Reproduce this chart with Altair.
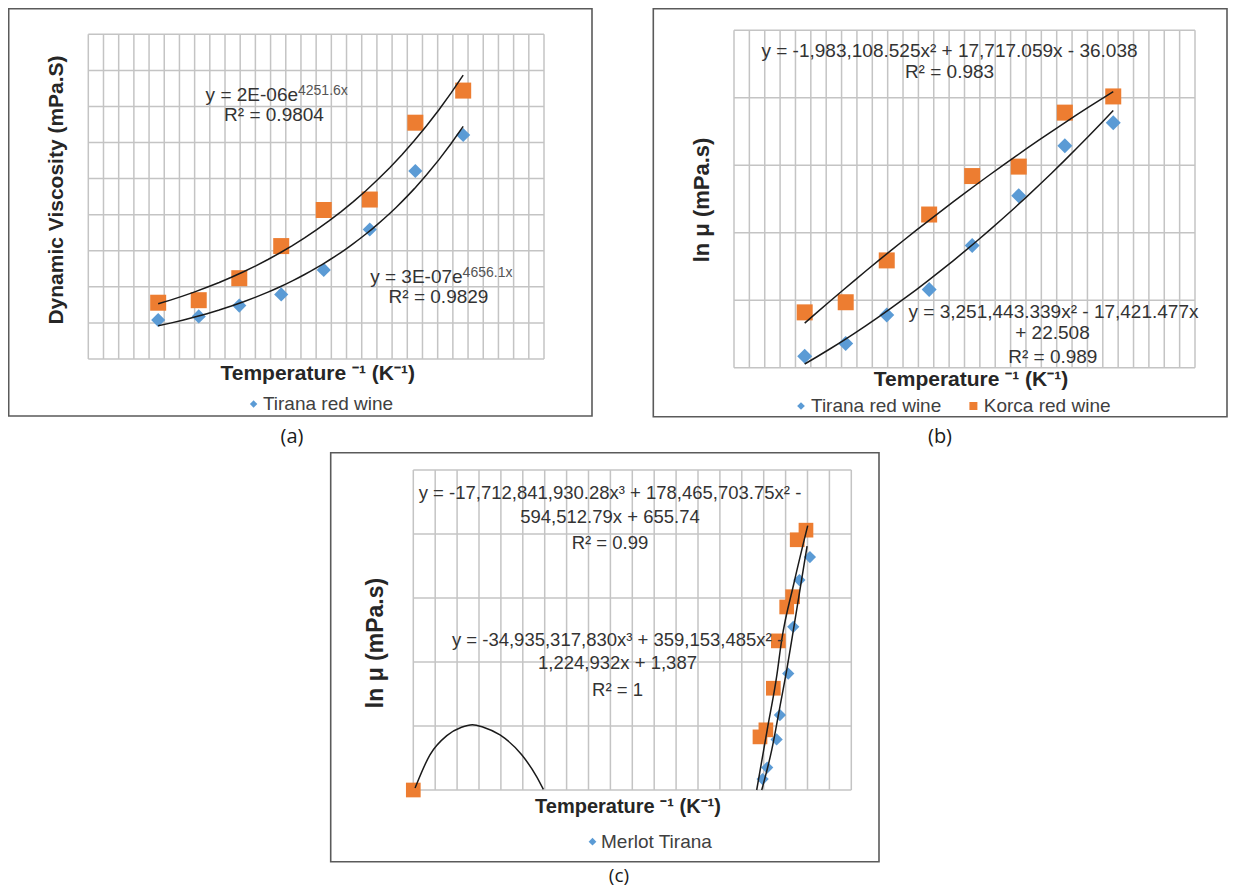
import altair as alt
import pandas as pd

# ---------------- data (in grid units) ----------------
AB_X = [4.60, 7.27, 9.94, 12.70, 15.50, 18.53, 21.53, 24.68]
A_TIRANA = [1.08, 1.18, 1.48, 1.79, 2.47, 3.59, 5.21, 6.21]
A_KORCA = [1.56, 1.63, 2.24, 3.13, 4.13, 4.42, 6.55, 7.44]
B_TIRANA = [0.17, 0.36, 0.78, 1.16, 1.81, 2.55, 3.29, 3.63]
B_KORCA = [0.82, 0.97, 1.59, 2.27, 2.84, 2.98, 3.78, 4.02]
C_X_MERLOT = [0.0, 15.95, 16.16, 16.59, 16.74, 17.12, 17.35, 17.63, 18.11]
C_MERLOT = [0.0, 0.17, 0.35, 0.79, 1.17, 1.82, 2.55, 3.28, 3.64]
C_X_OTHER = [0.0, 15.83, 16.10, 16.44, 16.67, 17.05, 17.32, 17.53, 17.93]
C_OTHER = [0.0, 0.83, 0.94, 1.59, 2.33, 2.86, 3.02, 3.91, 4.06]

# panel (c) trendlines (the part inside the plot area)
C_FIT_OTHER_U = [0.08, 0.76, 1.53, 2.20, 2.70, 3.20, 3.96, 4.95, 5.63, 5.94,
                 15.68, 16.16, 16.59, 16.82, 17.38, 18.01]
C_FIT_OTHER_V = [0.03, 0.55, 0.85, 0.98, 1.02, 0.98, 0.86, 0.55, 0.21, 0.01,
                 0.00, 0.94, 1.77, 2.34, 3.23, 4.13]
C_FIT_OTHER_SEG = [1] * 10 + [2] * 6
C_FIT_MERLOT_U = [15.91, 16.37, 16.74, 17.08, 17.28, 17.98]
C_FIT_MERLOT_V = [0.00, 0.63, 1.30, 1.93, 2.34, 3.81]

EQ_A1 = ("y = 2E-06e", "4251.6x", "R² = 0.9804")
EQ_A2 = ("y = 3E-07e", "4656.1x", "R² = 0.9829")
EQ_B1 = ["y = -1,983,108.525x² + 17,717.059x - 36.038", "R² = 0.983"]
EQ_B2 = ["y = 3,251,443.339x² - 17,421.477x", "+ 22.508", "R² = 0.989"]
EQ_C1 = ["y = -17,712,841,930.28x³ + 178,465,703.75x² -", "594,512.79x + 655.74", "R² = 0.99"]
EQ_C2 = ["y = -34,935,317,830x³ + 359,153,485x² -", "1,224,932x + 1,387", "R² = 1"]
X_TITLE = "Temperature ⁻¹ (K⁻¹)"

# ---------------- style / layout ----------------
ORANGE = "#ED7D31"
BLUE = "#5B9BD5"
GRID = "#c4c4c4"
FRAME = "#5a5a5a"
TXT = "#333333"
LINE = "#1a1a1a"
FONT = "Liberation Sans"
OFF = 8  # page margin

# grid boxes: x0, y0, x1, y1 (page px), columns, rows
GA = (88.3, 34.3, 544.0, 359.0, 30, 9)
GB = (734.0, 30.3, 1195.0, 367.7, 30, 5)
GC = (413.3, 470.0, 851.3, 790.0, 20, 5)

ONE = pd.DataFrame({"k": [0]})


def scales(g):
    x0, y0, x1, y1, nx, ny = g
    xs = alt.Scale(domain=[0, nx], range=[x0 - OFF, x1 - OFF], nice=False, zero=False)
    ys = alt.Scale(domain=[0, ny], range=[y1 - OFF, y0 - OFF], nice=False, zero=False)
    return xs, ys


def grid_layers(g):
    xs, ys = scales(g)
    nx, ny = g[4], g[5]
    vdf = pd.DataFrame({"u": list(range(nx + 1)), "v0": 0, "v1": ny})
    hdf = pd.DataFrame({"v": list(range(ny + 1)), "u0": 0, "u1": nx})
    vert = alt.Chart(vdf).mark_rule(color=GRID, strokeWidth=1.5).encode(
        x=alt.X("u:Q", scale=xs, axis=None),
        y=alt.Y("v0:Q", scale=ys, axis=None),
        y2="v1:Q",
    )
    hor = alt.Chart(hdf).mark_rule(color=GRID, strokeWidth=1.5).encode(
        y=alt.Y("v:Q", scale=ys, axis=None),
        x=alt.X("u0:Q", scale=xs, axis=None),
        x2="u1:Q",
    )
    return [vert, hor]


def points(df, g, shape, color, size):
    xs, ys = scales(g)
    return alt.Chart(df).mark_point(
        shape=shape, filled=True, size=size, color=color, opacity=1, strokeWidth=0
    ).encode(x=alt.X("u:Q", scale=xs, axis=None), y=alt.Y("v:Q", scale=ys, axis=None))


def fit(df, g, method, order=None):
    xs, ys = scales(g)
    if order is None:
        ch = alt.Chart(df).transform_regression("u", "v", method=method)
    else:
        ch = alt.Chart(df).transform_regression("u", "v", method=method, order=order)
    return ch.mark_line(color=LINE, strokeWidth=1.5).encode(
        x=alt.X("u:Q", scale=xs, axis=None), y=alt.Y("v:Q", scale=ys, axis=None)
    )


def curve(df, g):
    xs, ys = scales(g)
    return alt.Chart(df).mark_line(color=LINE, strokeWidth=1.5, interpolate="monotone").encode(
        x=alt.X("u:Q", scale=xs, axis=None),
        y=alt.Y("v:Q", scale=ys, axis=None),
        detail="seg:N",
    )


def txt(s, x, y, size=19, bold=False, align="center", color=TXT, angle=None, font=FONT):
    props = dict(text=s, fontSize=size, align=align, baseline="middle", font=font,
                 color=color, fontWeight="bold" if bold else "normal")
    if angle is not None:
        props["angle"] = angle
    return alt.Chart(ONE).mark_text(**props).encode(x=alt.value(x - OFF), y=alt.value(y - OFF))


def frame(x0, y0, x1, y1):
    return alt.Chart(ONE).mark_rect(filled=False, stroke=FRAME, strokeWidth=1.6).encode(
        x=alt.value(x0 - OFF), x2=alt.value(x1 - OFF), y=alt.value(y0 - OFF), y2=alt.value(y1 - OFF)
    )


def marker(x, y, shape, color, size):
    return alt.Chart(ONE).mark_point(shape=shape, filled=True, size=size, color=color,
                                     opacity=1, strokeWidth=0).encode(
        x=alt.value(x - OFF), y=alt.value(y - OFF))


df_a_t = pd.DataFrame({"u": AB_X, "v": A_TIRANA})
df_a_k = pd.DataFrame({"u": AB_X, "v": A_KORCA})
df_b_t = pd.DataFrame({"u": AB_X, "v": B_TIRANA})
df_b_k = pd.DataFrame({"u": AB_X, "v": B_KORCA})
df_c_m = pd.DataFrame({"u": C_X_MERLOT, "v": C_MERLOT})
df_c_o = pd.DataFrame({"u": C_X_OTHER, "v": C_OTHER})
df_c_fit_o = pd.DataFrame({"u": C_FIT_OTHER_U, "v": C_FIT_OTHER_V, "seg": C_FIT_OTHER_SEG})
df_c_fit_m = pd.DataFrame({"u": C_FIT_MERLOT_U, "v": C_FIT_MERLOT_V, "seg": 1})

layers = []
# frames
layers += [frame(8.7, 8.7, 592.0, 416.0), frame(653.3, 8.7, 1227.0, 416.7), frame(330.7, 452.7, 879.0, 861.7)]
# grids
layers += grid_layers(GA) + grid_layers(GB) + grid_layers(GC)
# points
layers += [points(df_a_t, GA, "diamond", BLUE, 200), points(df_a_k, GA, "square", ORANGE, 256)]
layers += [points(df_b_t, GB, "diamond", BLUE, 225), points(df_b_k, GB, "square", ORANGE, 256)]
layers += [points(df_c_m, GC, "diamond", BLUE, 150), points(df_c_o, GC, "square", ORANGE, 216)]
# trendlines
layers += [fit(df_a_t, GA, "exp"), fit(df_a_k, GA, "exp")]
layers += [fit(df_b_t, GB, "poly", 2), fit(df_b_k, GB, "poly", 2)]
layers += [curve(df_c_fit_m, GC), curve(df_c_fit_o, GC)]

# panel (a) texts
layers += [
    txt(EQ_A1[0], 205.6, 95, align="left"),
    txt(EQ_A1[1], 298.0, 91.3, size=14, align="left", color="#555555"),
    txt(EQ_A1[2], 274.0, 115),
    txt(EQ_A2[0], 370.2, 276.7, align="left"),
    txt(EQ_A2[1], 462.6, 273.0, size=14, align="left", color="#555555"),
    txt(EQ_A2[2], 438.5, 297.3),
    txt(X_TITLE, 317.7, 374, size=21, bold=True, color="#262626"),
    txt("Dynamic Viscosity (mPa.S)", 57, 190, size=21, bold=True, color="#262626", angle=270),
    marker(253.6, 404, "diamond", BLUE, 56),
    txt("Tirana red wine", 262.9, 404, align="left", color="#404040"),
    txt("(a)", 292, 437, size=20, color="#1a1a1a", font="Open Sans"),
]
# panel (b) texts
layers += [
    txt(EQ_B1[0], 949.5, 50.5),
    txt(EQ_B1[1], 949.5, 71.7),
    txt(EQ_B2[0], 1053.5, 311.7),
    txt(EQ_B2[1], 1052.5, 333.3),
    txt(EQ_B2[2], 1052.8, 356.7),
    txt(X_TITLE, 971, 380, size=21, bold=True, color="#262626"),
    txt("ln μ (mPa.s)", 702, 200, size=22, bold=True, color="#262626", angle=270),
    marker(801, 406, "diamond", BLUE, 60),
    txt("Tirana red wine", 811, 406, align="left", color="#404040"),
    marker(973.4, 406, "square", ORANGE, 64),
    txt("Korca red wine", 983.8, 406, align="left", color="#404040"),
    txt("(b)", 940, 437, size=20, color="#1a1a1a", font="Open Sans"),
]
# panel (c) texts
layers += [
    txt(EQ_C1[0], 610, 492.5, size=18.5),
    txt(EQ_C1[1], 610, 516.7, size=18.5),
    txt(EQ_C1[2], 610, 543.3, size=18.5),
    txt(EQ_C2[0], 617.5, 640, size=18.5),
    txt(EQ_C2[1], 617.5, 663.3, size=18.5),
    txt(EQ_C2[2], 617.5, 690, size=18.5),
    txt(X_TITLE, 628, 807, size=20, bold=True, color="#262626"),
    txt("ln μ (mPa.s)", 376, 643, size=23, bold=True, color="#262626", angle=270),
    marker(592.5, 841.7, "diamond", BLUE, 60),
    txt("Merlot Tirana", 601, 841.7, align="left", color="#404040"),
    txt("(c)", 619, 875.5, size=19, color="#1a1a1a", font="Open Sans"),
]

chart = (
    alt.layer(*layers)
    .resolve_scale(x="independent", y="independent")
    .properties(width=1220, height=879, padding=0, autosize=alt.AutoSizeParams(type="none"))
    .configure_view(stroke=None)
)

chart.save("out.html", embed_options={"renderer": "svg", "actions": False})
